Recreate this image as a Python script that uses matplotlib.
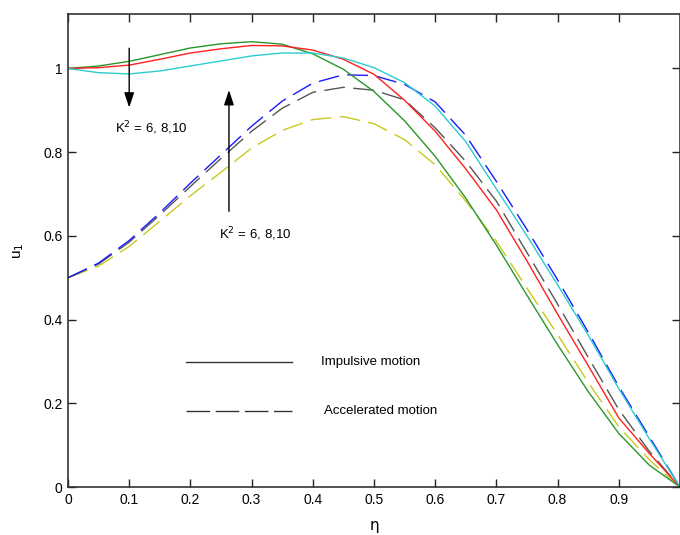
import matplotlib
matplotlib.use('Agg')
import matplotlib.pyplot as plt

# eta grid and velocity profiles
eta = [0.0, 0.05, 0.1, 0.15, 0.2, 0.25, 0.3, 0.35, 0.4, 0.45, 0.5,
       0.55, 0.6, 0.65, 0.7, 0.75, 0.8, 0.85, 0.9, 0.95, 1.0]

# impulsive motion (solid)
imp_green = [1.0, 1.006, 1.017, 1.033, 1.049, 1.059, 1.064, 1.058, 1.035, 0.998, 0.945,
             0.875, 0.790, 0.690, 0.578, 0.458, 0.340, 0.228, 0.128, 0.052, 0.0]
imp_red = [1.0, 1.002, 1.008, 1.022, 1.037, 1.047, 1.055, 1.054, 1.044, 1.022, 0.986,
           0.924, 0.850, 0.760, 0.662, 0.540, 0.413, 0.290, 0.165, 0.080, 0.0]
imp_cyan = [1.0, 0.990, 0.987, 0.994, 1.006, 1.018, 1.030, 1.037, 1.037, 1.025, 1.002,
            0.966, 0.910, 0.825, 0.712, 0.600, 0.483, 0.363, 0.235, 0.115, 0.0]

# accelerated motion (dashed)
acc_blue = [0.5, 0.535, 0.589, 0.655, 0.726, 0.794, 0.862, 0.922, 0.965, 0.985, 0.983,
            0.962, 0.920, 0.840, 0.730, 0.615, 0.495, 0.370, 0.240, 0.120, 0.0]
acc_gray = [0.5, 0.533, 0.585, 0.650, 0.718, 0.785, 0.850, 0.905, 0.943, 0.955, 0.948,
            0.925, 0.858, 0.778, 0.683, 0.560, 0.437, 0.310, 0.185, 0.085, 0.0]
acc_yellow = [0.5, 0.528, 0.575, 0.635, 0.696, 0.752, 0.810, 0.852, 0.878, 0.885, 0.868,
              0.830, 0.770, 0.683, 0.587, 0.475, 0.364, 0.250, 0.144, 0.065, 0.0]

xticks = [0, 0.1, 0.2, 0.3, 0.4, 0.5, 0.6, 0.7, 0.8, 0.9]
xticklabels = ['0', '0.1', '0.2', '0.3', '0.4', '0.5', '0.6', '0.7', '0.8', '0.9']
yticks = [0, 0.2, 0.4, 0.6, 0.8, 1.0]
yticklabels = ['0', '0.2', '0.4', '0.6', '0.8', '1']

plt.rcParams['font.family'] = ['Liberation Sans', 'DejaVu Sans']

fig = plt.figure(figsize=(6.8, 5.35), dpi=100)
ax = fig.add_axes([0.1, 0.0897, 0.9, 0.884])

dash = (15, 6)
ax.plot(eta, acc_yellow, color='#c8c81e', lw=1.0, dashes=dash)
ax.plot(eta, acc_gray, color='#555555', lw=1.0, dashes=dash)
ax.plot(eta, acc_blue, color='#1a1aff', lw=1.0, dashes=dash)
ax.plot(eta, imp_green, color='#2a962a', lw=1.0)
ax.plot(eta, imp_red, color='#ff2020', lw=1.0)
ax.plot(eta, imp_cyan, color='#2ccccc', lw=1.0)

ax.set_xlim(0, 1)
ax.set_ylim(0, 1.13)
ax.set_xticks(xticks)
ax.set_xticklabels(xticklabels)
ax.set_yticks(yticks)
ax.set_yticklabels(yticklabels)
ax.tick_params(direction='in', length=6, width=1, top=True, right=True,
               labelsize=10, colors='#222222', labelcolor='black', pad=4)
for s in ax.spines.values():
    s.set_linewidth(1.2)
    s.set_color('#333333')

ax.set_xlabel('η', fontsize=11, labelpad=8, family='DejaVu Sans')
ax.set_ylabel('u$_1$', fontsize=11, labelpad=12)

# arrows with K^2 labels
ax.annotate('', xy=(0.1, 0.90), xytext=(0.1, 1.055),
            arrowprops=dict(arrowstyle='-|>,head_length=0.9,head_width=0.3',
                            color='black', lw=1.0))
ax.text(0.076, 0.858, 'K$^2$ = 6, 8,10', fontsize=9.5, va='center', ha='left')
ax.annotate('', xy=(0.263, 0.955), xytext=(0.263, 0.652),
            arrowprops=dict(arrowstyle='-|>,head_length=0.9,head_width=0.3',
                            color='black', lw=1.0))
ax.text(0.247, 0.605, 'K$^2$ = 6, 8,10', fontsize=9.5, va='center', ha='left')

# manual key
ax.plot([0.193, 0.366], [0.299, 0.299], color='#333333', lw=1.0)
ax.text(0.413, 0.299, 'Impulsive motion', fontsize=9.5, va='center')
ax.plot([0.193, 0.366], [0.182, 0.182], color='#333333', lw=1.0, dashes=(17, 4))
ax.text(0.418, 0.182, 'Accelerated motion', fontsize=9.5, va='center')

fig.savefig('out.png', dpi=100)
